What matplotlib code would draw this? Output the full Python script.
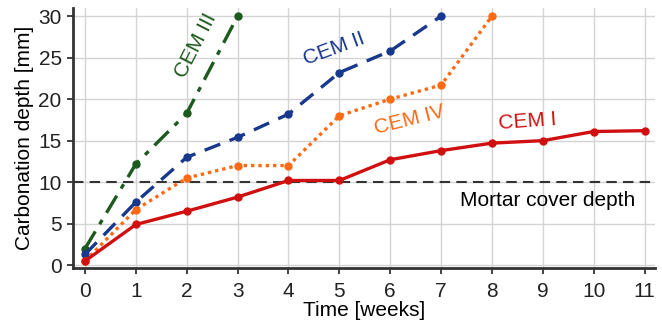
import matplotlib.pyplot as plt

plt.rcParams['font.family'] = ['Liberation Sans', 'DejaVu Sans']

# semanas e profundidade de carbonatação (mm)
semanas = list(range(12))
cem1 = [0.5, 4.9, 6.5, 8.2, 10.2, 10.2, 12.7, 13.8, 14.7, 15.0, 16.1, 16.2]
cem2 = [1.3, 7.6, 13.0, 15.4, 18.2, 23.2, 25.8, 30.0]
cem3 = [2.0, 12.2, 18.3, 30.0]
cem4 = [0.5, 6.7, 10.5, 12.0, 12.0, 18.0, 20.0, 21.7, 30.0]
cobrimento = 10

fig = plt.figure(figsize=(6.62, 3.27), dpi=100)
ax = fig.add_axes([0.110, 0.180, 0.879, 0.795])
ax.grid(True, color='#d4d4d4', linewidth=1)
ax.set_axisbelow(True)

ax.axhline(cobrimento, color='#333333', linestyle=(0, (5, 3)), linewidth=1.5, zorder=1)

c1, c2, c3, c4 = '#d01010', '#17388c', '#1d5a1d', '#ff6a12'
ax.plot(semanas[:len(cem3)], cem3, color=c3, linestyle=(0, (6, 2.5, 1.5, 2.5)), linewidth=2.4, marker='o', markersize=5)
ax.plot(semanas[:len(cem2)], cem2, color=c2, linestyle=(0, (5, 3)), linewidth=2.4, marker='o', markersize=5)
ax.plot(semanas[:len(cem4)], cem4, color=c4, linestyle=(0, (1, 1.2)), linewidth=2.4, marker='o', markersize=5)
ax.plot(semanas, cem1, color=c1, linestyle='-', linewidth=2.4, marker='o', markersize=5)

# rótulos das séries
ax.text(2.17, 26.4, 'CEM III', color=c3, fontsize=15, rotation=63, ha='center', va='center')
ax.text(4.9, 26.1, 'CEM II', color=c2, fontsize=15, rotation=20, ha='center', va='center')
ax.text(6.38, 17.5, 'CEM IV', color=c4, fontsize=15, rotation=14, ha='center', va='center')
ax.text(8.7, 17.3, 'CEM I', color=c1, fontsize=15, rotation=4, ha='center', va='center')
ax.text(9.09, 7.8, 'Mortar cover depth', color='black', fontsize=15, ha='center', va='center')

ax.set_xlim(-0.24, 11.2)
ax.set_ylim(-0.36, 30.96)
ax.set_xticks(semanas)
ax.set_yticks([0, 5, 10, 15, 20, 25, 30])
ax.tick_params(labelsize=15, colors='#222222', length=4, width=1.2)
ax.tick_params(axis='x', pad=6)
ax.tick_params(axis='y', pad=4)
ax.set_xlabel('Time [weeks]', fontsize=15, labelpad=0)
ax.set_ylabel('Carbonation depth [mm]', fontsize=15, labelpad=3)

for s in ['top', 'right']:
    ax.spines[s].set_visible(False)
for s in ['left', 'bottom']:
    ax.spines[s].set_linewidth(2)
    ax.spines[s].set_color('#333333')

fig.savefig('out.png', dpi=100)
